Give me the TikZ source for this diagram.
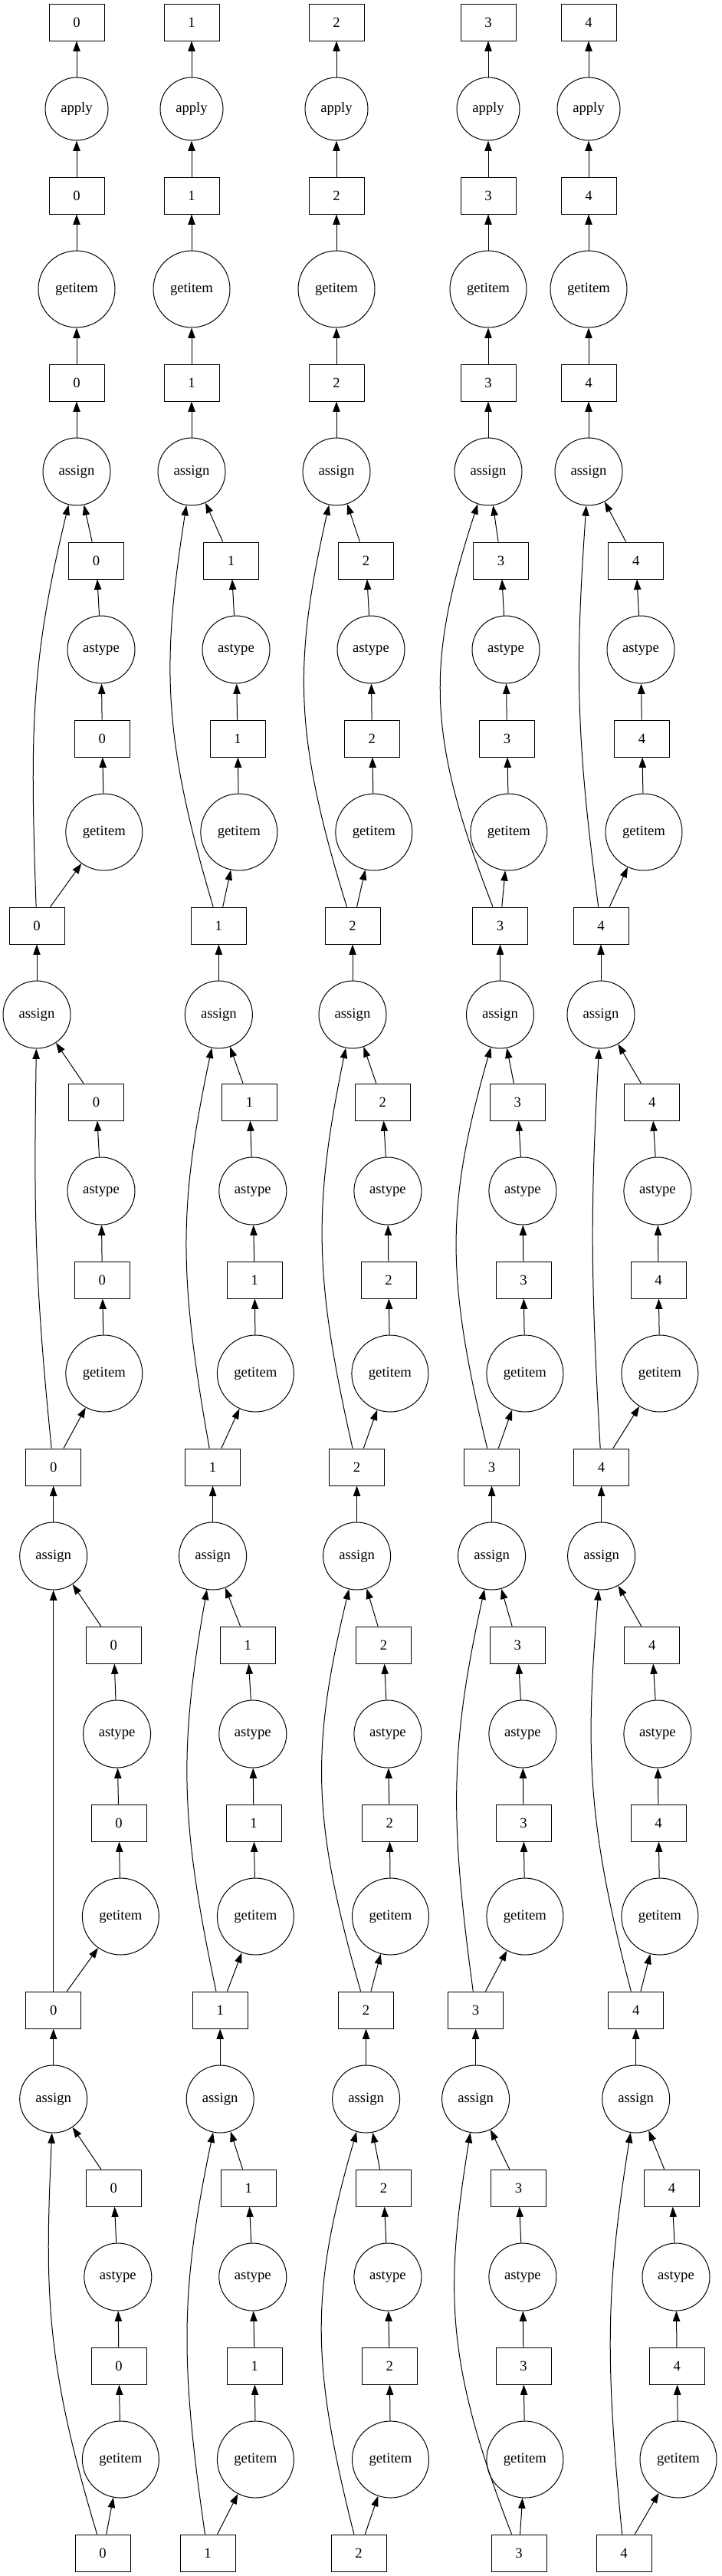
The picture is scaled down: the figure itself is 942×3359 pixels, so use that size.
\documentclass[tikz,border=0pt]{standalone}
\usepackage{fontspec}
\setmainfont{Liberation Serif}
\usetikzlibrary{arrows.meta}

\begin{document}
\begin{tikzpicture}[x=0.75pt, y=-0.75pt, -{Triangle[length=10pt, width=7pt]}, line width=0.75pt,
  every node/.style={draw, inner sep=0pt, font=\fontsize{14}{16}\selectfont},
  chunk/.style={rectangle, minimum width=54pt, minimum height=36pt},
  applyop/.style={circle, minimum size=61.5pt},
  getop/.style={circle, minimum size=75pt},
  castop/.style={circle, minimum size=66pt},
  assignop/.style={circle, minimum size=66pt}]
\useasboundingbox (0,0) rectangle (942,3359);

% one rank per line: index / y / style / label / x of the five columns
\foreach \r/\y/\kind/\lab/\xs in {
  0/29/chunk/\col/{100,250,439,637,768},
  1/142/applyop/apply/{100,250,439,637,768},
  2/255/chunk/\col/{100,250,439,637,768},
  3/377/getop/getitem/{100,250,439,637,768},
  4/499/chunk/\col/{100,250,439,637,768},
  5/615/assignop/assign/{100,250,439,637,768},
  6/731/chunk/\col/{125.6,301.6,477.6,653.6,829.7},
  7/847/castop/astype/{132,308,484,660,836},
  8/963/chunk/\col/{133.4,310,485.4,661.5,837.5},
  9/1085/getop/getitem/{135.8,311.8,487.8,663.9,840},
  10/1207/chunk/\col/{48,285.4,460,652.5,784},
  11/1323/assignop/assign/{48,285.4,460,652.5,784},
  12/1437/chunk/\col/{125.6,325.6,499.2,675.3,850.7},
  13/1553/castop/astype/{132,329.8,505.9,681.9,857.9},
  14/1669/chunk/\col/{133.4,332.2,507,683,859.1},
  15/1791/getop/getitem/{135.8,333.4,508.9,684.9,860.9},
  16/1913/chunk/\col/{69.7,277.6,465.6,641.6,784.6},
  17/2029/assignop/assign/{69.7,277.6,465.6,641.6,784.6},
  18/2145/chunk/\col/{148.4,323.2,500.5,675.3,850.7},
  19/2261/castop/astype/{152.6,329.8,505.9,681.9,857.9},
  20/2377/chunk/\col/{155,331,508.3,683,859.1},
  21/2499/getop/getitem/{157.4,333.4,509.5,684.9,860.9},
  22/2621/chunk/\col/{69.7,287.2,477.6,620.6,829.7},
  23/2737/assignop/assign/{69.7,287.2,477.6,620.6,829.7},
  24/2853/chunk/\col/{148.4,324.4,500.5,676.5,876.6},
  25/2969/castop/astype/{153.8,329.8,505.9,681.9,882},
  26/3085/chunk/\col/{155,332.2,508.3,683,883.2},
  27/3207/getop/getitem/{157.4,333.4,509.5,684.9,885},
  28/3329/chunk/\col/{134,271,468,677,814}}
  \foreach \x [count=\col from 0] in \xs
    \node[\kind] (n\col-\r) at (\x,\y) {\lab};

% chain from rank to rank
\foreach \col in {0,...,4}
  \foreach \r in {1,...,28} {
    \pgfmathtruncatemacro\q{\r-1}
    \draw (n\col-\r) -- (n\col-\q);
  }

% long edges into assign: from x / to x / bend x
\foreach \m/\s/\ym/\ys/\xs in {
  28/23/3329/2737/{134/69.7/69.4, 271/287.2/246, 468/477.6/422, 677/620.6/597.6, 814/829.7/797.8},
  22/17/2621/2029/{69.7/69.7/69.7, 287.2/277.6/246, 477.6/465.6/422.4, 620.6/641.6/597.8, 829.7/784.6/775},
  16/11/1913/1323/{69.7/48/48, 277.6/285.4/245, 465.6/460/422.4, 641.6/652.5/597.8, 784.6/784/773.8},
  10/5/1207/615/{48/100.3/48, 285.4/250/225.3, 460/439/399.5, 652.5/637/578, 784/768/757}}
  \foreach \xm/\xn/\xb [count=\col from 0] in \xs {
    \pgfmathsetmacro\cx{\xb+(\xb-(\xm+\xn)/2)/3}
    \draw (n\col-\m) .. controls (\cx,\ym-250) and (\cx,\ys+250) .. (n\col-\s);
  }
\end{tikzpicture}
\end{document}
